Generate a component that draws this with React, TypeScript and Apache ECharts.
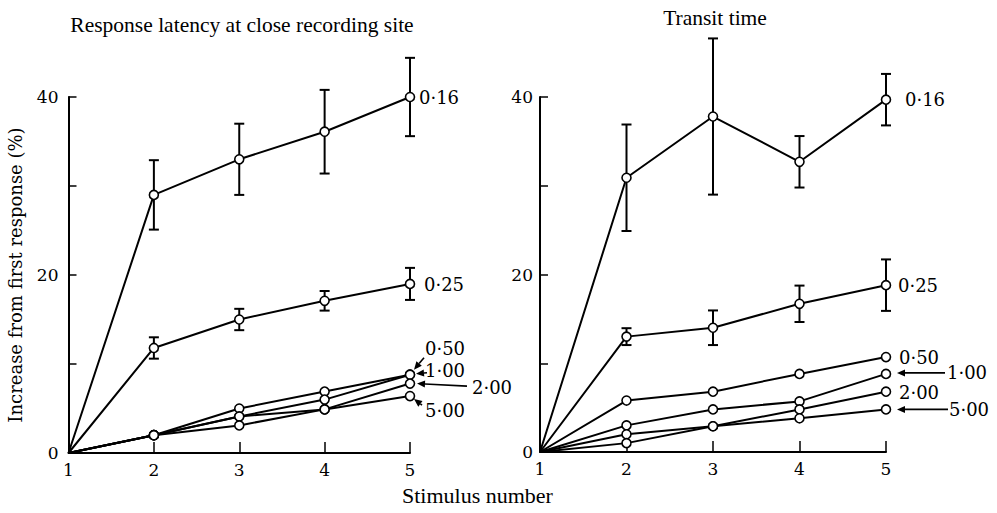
import React, { useEffect, useRef } from "react";
import * as echarts from "echarts";

// ---- data ----
const stimulus = [1, 2, 3, 4, 5];
const yTicksShown = [0, 20, 40];

const leftTitle = "Response latency at close recording site";
const rightTitle = "Transit time";
const yName = "Increase from first response (%)";
const xName = "Stimulus number";

// Left panel: response latency (mean, error half-width)
const left016 = [0, 29, 33, 36.1, 40];
const left016Err = [0, 3.9, 4, 4.7, 4.4];
const left025 = [0, 11.8, 15.0, 17.1, 19.0];
const left025Err = [0, 1.2, 1.2, 1.1, 1.8];
const left050 = [0, 2, 5.0, 6.9, 8.8];
const left100 = [0, 2, 4.1, 6.0, 8.8];
const left200 = [0, 2, 4.1, 4.9, 7.8];
const left500 = [0, 2, 3.1, 4.9, 6.4];

// Right panel: transit time
const right016 = [0, 30.9, 37.8, 32.7, 39.7];
const right016Err = [0, 6, 8.8, 2.9, 2.9];
const right025 = [0, 13.0, 14.0, 16.7, 18.8];
const right025Err = [0, 0.95, 1.95, 2.05, 2.9];
const right050 = [0, 5.8, 6.8, 8.8, 10.7];
const right100 = [0, 3.0, 4.8, 5.7, 8.8];
const right200 = [0, 2.0, 2.9, 4.8, 6.8];
const right500 = [0, 1.0, 2.9, 3.8, 4.8];

const intervalLabels = ["0·16", "0·25", "0·50", "1·00", "2·00", "5·00"];

// annotation placement (pixel offsets from last marker)
type Ann = { dx: number; dy: number; arrow?: [number, number, number, number] };
const leftAnn: Ann[] = [
  { dx: 29, dy: 0 },
  { dx: 34, dy: 1 },
  { dx: 35, dy: -26, arrow: [14, -17, 4, -5] },
  { dx: 35, dy: -4, arrow: [17, -2, 6, -1] },
  { dx: 82, dy: 4, arrow: [57, 2.5, 7, 0] },
  { dx: 35, dy: 14, arrow: [12, 9, 4, 3] },
];
const rightAnn: Ann[] = [
  { dx: 39, dy: 0 },
  { dx: 32, dy: 0 },
  { dx: 33, dy: 0 },
  { dx: 81, dy: -1, arrow: [59, -1, 11, -1] },
  { dx: 33, dy: 1 },
  { dx: 83, dy: 0, arrow: [62, 0, 11, 0] },
];

const SERIF = "Liberation Serif";
const NUMF = "DejaVu Serif";

function lineSeries(values: number[], idx: number) {
  return {
    type: "line",
    xAxisIndex: idx,
    yAxisIndex: idx,
    data: values.map((v, i) =>
      i === 0 ? { value: [stimulus[i], v], symbol: "none" } : { value: [stimulus[i], v] }
    ),
    symbol: "circle",
    symbolSize: 9,
    itemStyle: { color: "#fff", borderColor: "#000", borderWidth: 1.6 },
    lineStyle: { color: "#000", width: 2 },
    z: 3,
  };
}

function errSeries(values: number[], errs: number[], idx: number) {
  return {
    type: "custom",
    xAxisIndex: idx,
    yAxisIndex: idx,
    clip: false,
    z: 2,
    data: values
      .map((v, i) => [stimulus[i], v, errs[i]])
      .filter((d) => d[2] > 0),
    renderItem: (params: any, api: any) => {
      const x = api.value(0);
      const y = api.value(1);
      const e = api.value(2);
      const t = api.coord([x, y + e]);
      const b = api.coord([x, y - e]);
      const w = 5;
      const st = { stroke: "#000", lineWidth: 2 };
      return {
        type: "group",
        children: [
          { type: "line", shape: { x1: t[0], y1: t[1], x2: b[0], y2: b[1] }, style: st },
          { type: "line", shape: { x1: t[0] - w, y1: t[1], x2: t[0] + w, y2: t[1] }, style: st },
          { type: "line", shape: { x1: b[0] - w, y1: b[1], x2: b[0] + w, y2: b[1] }, style: st },
        ],
      };
    },
  };
}

function annSeries(lastValues: number[], anns: Ann[], idx: number) {
  return {
    type: "custom",
    xAxisIndex: idx,
    yAxisIndex: idx,
    clip: false,
    z: 4,
    data: lastValues.map((v, i) => [stimulus[stimulus.length - 1], v, i]),
    renderItem: (params: any, api: any) => {
      const p = api.coord([api.value(0), api.value(1)]);
      const k = api.value(2);
      const a = anns[k];
      const children: any[] = [
        {
          type: "text",
          x: p[0] + a.dx,
          y: p[1] + a.dy,
          style: {
            text: intervalLabels[k],
            fill: "#000",
            font: `18px "${NUMF}"`,
            align: "center",
            verticalAlign: "middle",
          },
        },
      ];
      if (a.arrow) {
        const [sx, sy, ex, ey] = a.arrow;
        const x1 = p[0] + sx, y1 = p[1] + sy, x2 = p[0] + ex, y2 = p[1] + ey;
        const ang = Math.atan2(y2 - y1, x2 - x1);
        const L = 8, H = 3.5;
        const bx = x2 - L * Math.cos(ang), by = y2 - L * Math.sin(ang);
        const nx = -Math.sin(ang) * H, ny = Math.cos(ang) * H;
        children.push({
          type: "line",
          shape: { x1, y1, x2: bx, y2: by },
          style: { stroke: "#000", lineWidth: 1.6 },
        });
        children.push({
          type: "polygon",
          shape: { points: [[x2, y2], [bx + nx, by + ny], [bx - nx, by - ny]] },
          style: { fill: "#000" },
        });
      }
      return { type: "group", children };
    },
  };
}

function xAxis(idx: number) {
  return {
    type: "value",
    gridIndex: idx,
    min: 1,
    max: 5,
    interval: 1,
    axisLine: { lineStyle: { color: "#000", width: 2 } },
    axisTick: { inside: true, length: 11, lineStyle: { color: "#000", width: 1.5 } },
    axisLabel: { color: "#000", fontFamily: NUMF, fontSize: 17, margin: 8 },
    splitLine: { show: false },
  };
}

function yAxis(idx: number) {
  return {
    type: "value",
    gridIndex: idx,
    min: 0,
    max: 40,
    interval: 10,
    axisLine: { show: true, lineStyle: { color: "#000", width: 2 } },
    axisTick: { show: true, inside: true, length: 8, lineStyle: { color: "#000", width: 1.5 } },
    axisLabel: {
      color: "#000",
      fontFamily: NUMF,
      fontSize: 17,
      margin: idx === 0 ? 10 : 7,
      formatter: (v: number) => (yTicksShown.includes(v) ? String(v) : ""),
    },
    splitLine: { show: false },
    ...(idx === 0
      ? {
          name: yName,
          nameLocation: "middle",
          nameRotate: 90,
          nameGap: 44,
          nameTextStyle: { color: "#000", fontFamily: NUMF, fontSize: 18 },
        }
      : {}),
  };
}

export default function App() {
  const ref = useRef<HTMLDivElement>(null);
  useEffect(() => {
    if (!ref.current) return;
    const chart = echarts.init(ref.current, undefined, { renderer: "svg" });
    const left = [left016, left025, left050, left100, left200, left500];
    const right = [right016, right025, right050, right100, right200, right500];
    chart.setOption({
      animation: false,
      backgroundColor: "#fff",
      title: [
        {
          text: leftTitle,
          left: 237,
          top: 9,
          textAlign: "center",
          textStyle: { fontFamily: SERIF, fontSize: 21.5, fontWeight: "normal", color: "#000" },
        },
        {
          text: rightTitle,
          left: 710,
          top: 2,
          textAlign: "center",
          textStyle: { fontFamily: SERIF, fontSize: 21.5, fontWeight: "normal", color: "#000" },
        },
      ],
      graphic: [
        {
          type: "text",
          left: 402,
          top: 484,
          style: { text: xName, font: `22px "${SERIF}"`, fill: "#000" },
        },
      ],
      grid: [
        { left: 68.5, top: 97, width: 341.5, height: 356, containLabel: false },
        { left: 540, top: 97, width: 346, height: 355, containLabel: false },
      ],
      xAxis: [xAxis(0), xAxis(1)],
      yAxis: [yAxis(0), yAxis(1)],
      series: [
        errSeries(left016, left016Err, 0),
        errSeries(left025, left025Err, 0),
        errSeries(right016, right016Err, 1),
        errSeries(right025, right025Err, 1),
        ...left.map((s) => lineSeries(s, 0)),
        ...right.map((s) => lineSeries(s, 1)),
        annSeries(left.map((s) => s[s.length - 1]), leftAnn, 0),
        annSeries(right.map((s) => s[s.length - 1]), rightAnn, 1),
      ],
    });
    return () => chart.dispose();
  }, []);
  return (
    <div
      ref={ref}
      style={{ position: "fixed", left: 0, top: 0, width: 997, height: 513 }}
    />
  );
}
